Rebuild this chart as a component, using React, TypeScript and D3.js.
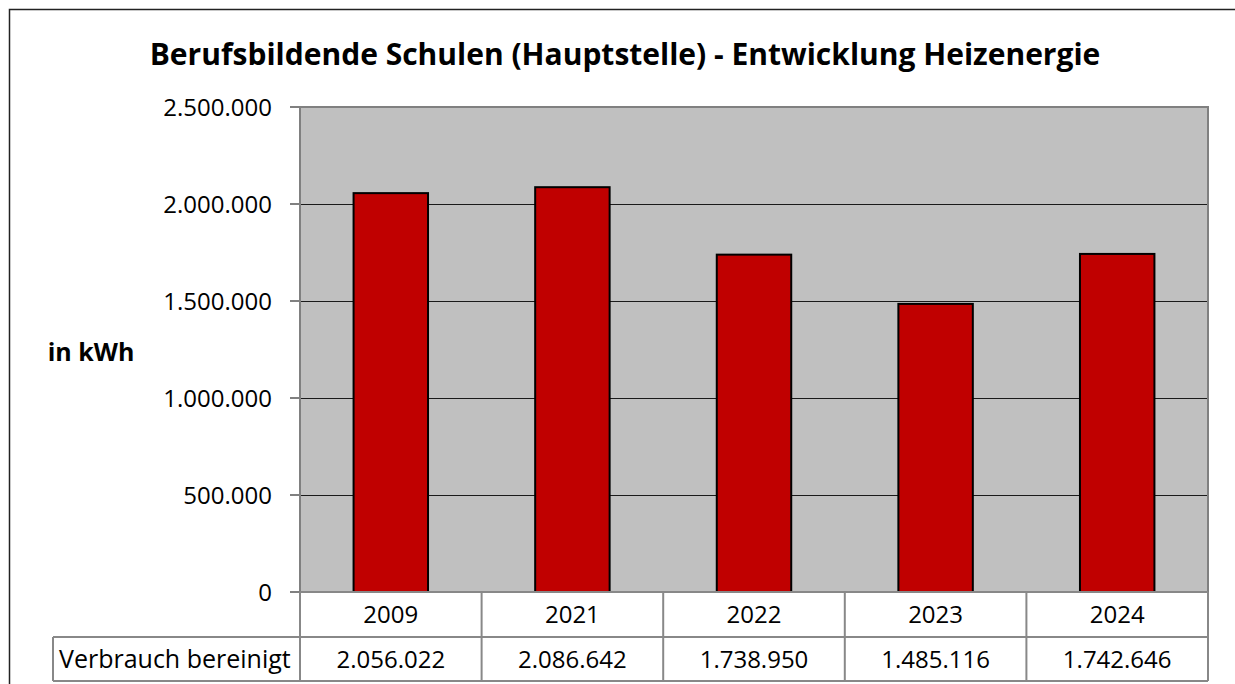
import React from "react";
import * as d3 from "d3";

const categories = ["2009", "2021", "2022", "2023", "2024"];
const values = [2056022, 2086642, 1738950, 1485116, 1742646];
const yTicks = [0, 500000, 1000000, 1500000, 2000000, 2500000];
const title = "Berufsbildende Schulen (Hauptstelle) - Entwicklung Heizenergie";
const yTitle = "in kWh";
const rowLabel = "Verbrauch bereinigt";

const W = 1235, H = 684;
const L = 300, R = 1208, T = 107, B = 592;
const font = "'Open Sans', 'Noto Sans', sans-serif";

const deFmt = d3.formatLocale({ decimal: ",", thousands: ".", grouping: [3], currency: ["", "€"] }).format(",d");

export default function App() {
  const x = d3.scaleBand<string>().domain(categories).range([L, R]).paddingInner(0).paddingOuter(0);
  const y = d3.scaleLinear().domain([0, 2500000]).range([B, T]);
  const bw = x.bandwidth() * 0.41;
  const row1B = 637, row2B = 681;
  const labelL = 53;
  return (
    <svg width={W} height={H} style={{ position: "absolute", left: 0, top: 0 }} fontFamily={font}>
      <rect x={0} y={0} width={W} height={H} fill="#fff" />
      <rect x={9.5} y={9.5} width={1400} height={1000} fill="none" stroke="#222" strokeWidth={1.5} />
      <text x={625} y={65} textAnchor="middle" fontSize={30} fontWeight="bold" fill="#000">{title}</text>
      <rect x={L} y={T} width={R - L} height={B - T} fill="#c0c0c0" />
      {yTicks.filter(t => t > 0 && t < 2500000).map(t => (
        <line key={t} x1={L} x2={R} y1={Math.round(y(t)) + 0.5} y2={Math.round(y(t)) + 0.5} stroke="#1a1a1a" strokeWidth={1} />
      ))}
      {categories.map((c, i) => (
        <rect key={c} x={x(c)! + (x.bandwidth() - bw) / 2} y={y(values[i])} width={bw} height={B - y(values[i])}
          fill="#c00000" stroke="#000" strokeWidth={2} />
      ))}
      <rect x={L} y={T} width={R - L} height={B - T} fill="none" stroke="#808080" strokeWidth={2} />
      {yTicks.map(t => (
        <g key={t}>
          <line x1={L - 10} x2={L} y1={y(t)} y2={y(t)} stroke="#808080" strokeWidth={2} />
          <text x={272} y={y(t) + 8.5} textAnchor="end" fontSize={24} fill="#000">{deFmt(t)}</text>
        </g>
      ))}
      <text x={91} y={361} textAnchor="middle" fontSize={25} fontWeight="bold" fill="#000">{yTitle}</text>
      <g stroke="#888" strokeWidth={2} fill="none">
        <line x1={L} x2={R} y1={B} y2={B} />
        <line x1={labelL} x2={R} y1={row1B} y2={row1B} />
        <line x1={labelL} x2={R} y1={row2B} y2={row2B} />
        <line x1={labelL} x2={labelL} y1={row1B} y2={row2B} />
        {categories.map(c => (
          <line key={c} x1={x(c)!} x2={x(c)!} y1={B} y2={row2B} />
        ))}
        <line x1={R} x2={R} y1={B} y2={row2B} />
      </g>
      {categories.map((c, i) => (
        <g key={c}>
          <text x={x(c)! + x.bandwidth() / 2} y={623} textAnchor="middle" fontSize={24} fill="#000">{c}</text>
          <text x={x(c)! + x.bandwidth() / 2} y={668} textAnchor="middle" fontSize={24} fill="#000">{deFmt(values[i])}</text>
        </g>
      ))}
      <text x={59} y={668} fontSize={25} fill="#000">{rowLabel}</text>
    </svg>
  );
}
